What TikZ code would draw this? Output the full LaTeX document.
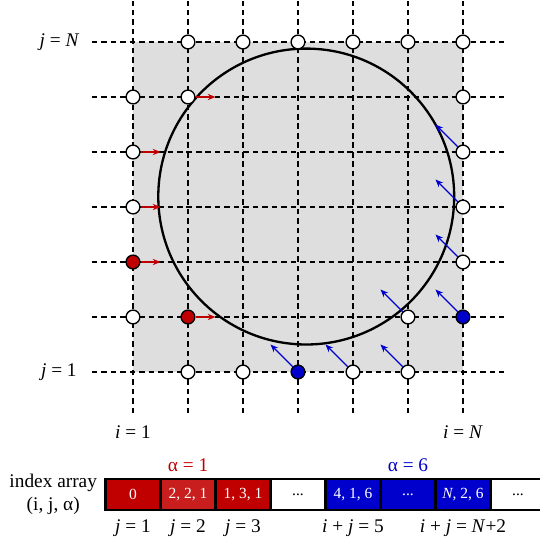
\documentclass[tikz,border=0pt]{standalone}
\usepackage{fontspec}
\setmainfont{Liberation Serif}
\usetikzlibrary{arrows.meta,calc}

\definecolor{cellred}{RGB}{192,0,0}
\definecolor{cellredlight}{RGB}{200,30,30}
\definecolor{cellblue}{RGB}{0,0,204}
\definecolor{domaingray}{RGB}{222,222,222}

\begin{document}
\begin{tikzpicture}[
    >=Stealth,
    gridline/.style={
        draw=black,
        line width=0.7pt,
        dash pattern=on 2.9pt off 2pt
    },
    site/.style={
        circle,
        draw=black,
        line width=0.7pt,
        fill=white,
        minimum size=0.25cm,
        inner sep=0pt
    },
    redsite/.style={
        site,
        fill=cellred
    },
    bluesite/.style={
        site,
        fill=cellblue
    },
    redarr/.style={
        -{Stealth[length=4pt,width=3.2pt]},
        line width=0.7pt,
        draw=cellred
    },
    bluearr/.style={
        -{Stealth[length=4pt,width=3.2pt]},
        line width=0.7pt,
        draw=cellblue
    },
    cell/.style={
        draw=black,
        line width=1.1pt,
        minimum width=1cm,
        minimum height=0.56cm,
        inner sep=0pt,
        font=\footnotesize,
        text=white
    }
]

    \useasboundingbox (-1.418,-2.091) rectangle (8.4,7.764);

    % domain and lattice
    \fill[domaingray] (1,1) rectangle (7,7);
    \foreach \k in {1,...,7} {
        \draw[gridline] (\k,0.25) -- (\k,7.75);
        \draw[gridline] (0.25,\k) -- (7.75,\k);
    }

    % immersed boundary
    \draw[line width=1.2pt] (4.15,4.19) circle (2.69);

    % boundary sites
    \foreach \i/\j in {2/7,3/7,4/7,5/7,6/7,7/7,1/6,2/6,7/6,1/5,7/5,
                       1/4,7/4,7/3,1/2,6/2,2/1,3/1,5/1,6/1}
        \node[site] (s\i\j) at (\i,\j) {};
    \node[redsite] (s13) at (1,3) {};
    \node[redsite] (s22) at (2,2) {};
    \node[bluesite] (s72) at (7,2) {};
    \node[bluesite] (s41) at (4,1) {};

    % link directions
    \foreach \i/\j in {2/6,1/5,1/4,1/3,2/2} {
        \coordinate (r\i\j) at ($(s\i\j)+(0.5,0)$);
        \draw[redarr] (s\i\j) -- (r\i\j);
    }
    \foreach \i/\j in {7/5,7/4,7/3,7/2,6/2,4/1,5/1,6/1} {
        \coordinate (b\i\j) at ($(s\i\j)+(-0.5,0.5)$);
        \draw[bluearr] (s\i\j) -- (b\i\j);
    }

    % axis labels
    \node[anchor=east] (jN) at (0.15,7) {\textit{j} = \textit{N}};
    \node[anchor=east] (j1) at (0.1,1) {\textit{j} = 1};
    \node (i1) at (1,-0.09) {\textit{i} = 1};
    \node (iN) at (7,-0.09) {\textit{i} = \textit{N}};

    % index array
    \node[align=center] (idx) at (-0.45,-1.22) {index array\\(i, j, α)};
    \node[cell, fill=cellred] (c1) at (1,-1.227) {0};
    \node[cell, fill=cellredlight] (c2) at (2,-1.227) {2, 2, 1};
    \node[cell, fill=cellred] (c3) at (3,-1.227) {1, 3, 1};
    \node[cell, fill=white, text=black] (c4) at (4,-1.227) {...};
    \node[cell, fill=cellblue] (c5) at (5,-1.227) {4, 1, 6};
    \node[cell, fill=cellblue] (c6) at (6,-1.227) {...};
    \node[cell, fill=cellblue] (c7) at (7,-1.227) {\textit{N}, 2, 6};
    \node[cell, fill=white, text=black] (c8) at (8,-1.227) {...};

    \node[text=cellred] (a1) at (2,-0.69) {α = 1};
    \node[text=cellblue] (a6) at (6,-0.69) {α = 6};

    \node (lj1) at (1,-1.836) {\textit{j} = 1};
    \node (lj2) at (2,-1.836) {\textit{j} = 2};
    \node (lj3) at (3,-1.836) {\textit{j} = 3};
    \node (lk5) at (5,-1.836) {\textit{i} + \textit{j} = 5};
    \node (lkN) at (7,-1.836) {\textit{i} + \textit{j} = \textit{N}+2};

\end{tikzpicture}
\end{document}
